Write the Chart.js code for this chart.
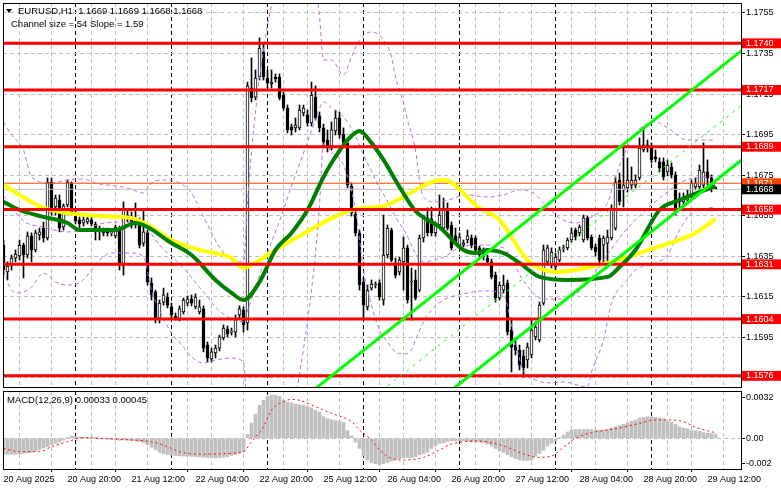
<!DOCTYPE html>
<html><head><meta charset="utf-8">
<script src="https://cdn.jsdelivr.net/npm/chart.js@4.4.1/dist/chart.umd.min.js"></script>
<style>
html,body{margin:0;padding:0;background:#fff;}
#wrap{position:relative;width:781px;height:489px;overflow:hidden;background:#fff;font-family:"Liberation Sans",Arial,sans-serif;}
canvas{position:absolute;left:0;}
#main{top:0;}
#macd{top:389px;}
.lbl{position:absolute;font-size:9.5px;color:#000;white-space:pre;line-height:1;}
.tri{position:absolute;left:6px;top:9px;width:0;height:0;border-left:3px solid transparent;border-right:3px solid transparent;border-top:4px solid #000;}
</style></head><body>
<div id="wrap">
<canvas id="main" width="781" height="389"></canvas>
<canvas id="macd" width="781" height="100"></canvas>
<div class="tri"></div>
<div class="lbl" style="left:18px;top:6px;">EURUSD,H1  1.1669 1.1669 1.1668 1.1668</div>
<div class="lbl" style="left:11px;top:19px;">Channel size = 54 Slope = 1.59</div>
<div class="lbl" style="left:7px;top:395px;">MACD(12,26,9) 0.00033 0.00045</div>
</div>
<script>
// ---------- DATA (EURUSD H1, bar 0 = 20 Aug 2025 04:00) ----------
const open = [1.16405,1.16272,1.16302,1.16341,1.16351,1.16405,1.16356,1.16450,1.16381,1.16455,
1.16489,1.16440,1.16716,1.16593,1.16627,1.16494,1.16603,1.16711,1.16563,1.16529,
1.16514,1.16519,1.16529,1.16509,1.16484,1.16465,1.16479,1.16465,1.16450,1.16489,
1.16302,1.16539,1.16548,1.16529,1.16519,1.16415,1.16465,1.16218,1.16174,1.16045,
1.16124,1.16149,1.16100,1.16055,1.16040,1.16075,1.16119,1.16139,1.16100,1.16075,
1.16090,1.15912,1.15843,1.15873,1.15897,1.15947,1.15991,1.15976,1.15976,1.16060,
1.16085,1.16021,1.17180,1.17135,1.17234,1.17357,1.17229,1.17200,1.17234,1.17234,
1.17145,1.17081,1.16988,1.16983,1.16983,1.17057,1.17047,1.17007,1.17135,1.17042,
1.16983,1.16923,1.16884,1.16968,1.17032,1.16953,1.16909,1.16696,1.16558,1.16465,
1.16223,1.16100,1.16193,1.16208,1.16218,1.16134,1.16356,1.16479,1.16317,1.16272,
1.16322,1.16391,1.16223,1.16233,1.16183,1.16440,1.16539,1.16534,1.16465,1.16504,
1.16489,1.16578,1.16504,1.16450,1.16405,1.16405,1.16430,1.16440,1.16440,1.16391,
1.16381,1.16341,1.16322,1.16257,1.16144,1.16183,1.16218,1.15986,1.15912,1.15887,
1.15858,1.15838,1.15863,1.15952,1.15937,1.16119,1.16322,1.16307,1.16297,1.16331,
1.16386,1.16391,1.16430,1.16479,1.16465,1.16430,1.16539,1.16445,1.16396,1.16440,
1.16405,1.16415,1.16440,1.16489,1.16726,1.16677,1.16687,1.16701,1.16701,1.16736,
1.16874,1.16899,1.16889,1.16840,1.16815,1.16815,1.16766,1.16790,1.16751,1.16637,
1.16618,1.16627,1.16642,1.16692,1.16692,1.16701,1.16766,1.16736,1.16690];
const high = [1.16430,1.16322,1.16356,1.16381,1.16430,1.16415,1.16470,1.16465,1.16479,1.16489,
1.16519,1.16736,1.16736,1.16652,1.16652,1.16608,1.16726,1.16716,1.16578,1.16544,
1.16548,1.16558,1.16544,1.16519,1.16499,1.16489,1.16489,1.16484,1.16504,1.16499,
1.16618,1.16578,1.16568,1.16613,1.16539,1.16578,1.16479,1.16243,1.16183,1.16134,
1.16193,1.16169,1.16119,1.16070,1.16105,1.16144,1.16154,1.16159,1.16164,1.16134,
1.16105,1.15927,1.15897,1.15912,1.15961,1.16011,1.16006,1.15996,1.16060,1.16105,
1.16100,1.17209,1.17328,1.17269,1.17427,1.17402,1.17269,1.17269,1.17249,1.17249,
1.17160,1.17096,1.17002,1.17032,1.17096,1.17096,1.17071,1.17209,1.17190,1.17061,
1.17002,1.16973,1.17012,1.17071,1.17061,1.16983,1.16923,1.16711,1.16578,1.16479,
1.16243,1.16208,1.16233,1.16223,1.16233,1.16553,1.16504,1.16489,1.16341,1.16346,
1.16445,1.16405,1.16292,1.16282,1.16455,1.16553,1.16588,1.16593,1.16519,1.16652,
1.16637,1.16613,1.16519,1.16489,1.16465,1.16430,1.16479,1.16455,1.16450,1.16400,
1.16391,1.16356,1.16336,1.16272,1.16223,1.16257,1.16233,1.16045,1.15937,1.15912,
1.15887,1.15922,1.16035,1.16026,1.16124,1.16405,1.16405,1.16391,1.16366,1.16396,
1.16405,1.16440,1.16489,1.16489,1.16504,1.16553,1.16548,1.16455,1.16410,1.16455,
1.16450,1.16479,1.16603,1.16741,1.16761,1.16884,1.16834,1.16790,1.16751,1.16933,
1.16988,1.16923,1.16909,1.16874,1.16835,1.16835,1.16825,1.16810,1.16766,1.16662,
1.16662,1.16677,1.16726,1.16736,1.16800,1.16909,1.16825,1.16751,1.16692];
const low = [1.16257,1.16233,1.16282,1.16322,1.16331,1.16243,1.16341,1.16322,1.16371,1.16430,
1.16420,1.16430,1.16553,1.16553,1.16470,1.16479,1.16593,1.16553,1.16509,1.16489,
1.16499,1.16509,1.16499,1.16430,1.16430,1.16450,1.16450,1.16450,1.16440,1.16282,
1.16257,1.16519,1.16489,1.16489,1.16391,1.16400,1.16208,1.16134,1.16021,1.16021,
1.16109,1.16095,1.16045,1.16035,1.16031,1.16065,1.16105,1.16105,1.16090,1.16065,
1.15878,1.15828,1.15828,1.15848,1.15883,1.15937,1.15952,1.15961,1.15952,1.16045,
1.15976,1.15986,1.17111,1.17121,1.17219,1.17219,1.17180,1.17180,1.17209,1.17121,
1.17071,1.16958,1.16948,1.16963,1.16973,1.17042,1.16992,1.16992,1.17022,1.16963,
1.16884,1.16864,1.16874,1.16948,1.16933,1.16894,1.16687,1.16548,1.16450,1.16183,
1.16045,1.16085,1.16183,1.16193,1.16134,1.16109,1.16341,1.16322,1.16243,1.16257,
1.16183,1.16119,1.16035,1.16134,1.16174,1.16420,1.16450,1.16450,1.16450,1.16489,
1.16479,1.16479,1.16381,1.16405,1.16391,1.16396,1.16415,1.16391,1.16366,1.16341,
1.16331,1.16307,1.16238,1.16124,1.16134,1.16169,1.15961,1.15779,1.15863,1.15789,
1.15754,1.15799,1.15848,1.15937,1.15927,1.16109,1.16307,1.16292,1.16282,1.16322,
1.16371,1.16381,1.16420,1.16430,1.16450,1.16420,1.16430,1.16381,1.16351,1.16297,
1.16322,1.16297,1.16430,1.16479,1.16603,1.16593,1.16667,1.16677,1.16687,1.16726,
1.16864,1.16864,1.16810,1.16815,1.16766,1.16726,1.16746,1.16736,1.16553,1.16588,
1.16598,1.16608,1.16627,1.16677,1.16677,1.16687,1.16701,1.16667,1.16680];
const close = [1.16282,1.16302,1.16341,1.16361,1.16405,1.16356,1.16450,1.16381,1.16465,1.16470,
1.16440,1.16716,1.16568,1.16637,1.16489,1.16598,1.16716,1.16563,1.16524,1.16509,
1.16529,1.16534,1.16509,1.16470,1.16470,1.16474,1.16465,1.16470,1.16494,1.16317,
1.16588,1.16553,1.16509,1.16504,1.16405,1.16470,1.16223,1.16159,1.16035,1.16119,
1.16159,1.16109,1.16060,1.16045,1.16090,1.16134,1.16139,1.16119,1.16149,1.16100,
1.15897,1.15848,1.15878,1.15897,1.15952,1.15996,1.15966,1.15981,1.16045,1.16090,
1.16011,1.17190,1.17131,1.17229,1.17377,1.17234,1.17205,1.17209,1.17224,1.17131,
1.17081,1.16973,1.16973,1.16997,1.17071,1.17081,1.17007,1.17145,1.17032,1.16983,
1.16914,1.16884,1.16973,1.17032,1.16948,1.16909,1.16701,1.16563,1.16465,1.16208,
1.16109,1.16183,1.16213,1.16213,1.16149,1.16356,1.16489,1.16331,1.16257,1.16331,
1.16391,1.16134,1.16223,1.16144,1.16440,1.16539,1.16465,1.16465,1.16504,1.16553,
1.16578,1.16489,1.16391,1.16415,1.16445,1.16415,1.16450,1.16405,1.16381,1.16356,
1.16346,1.16322,1.16248,1.16144,1.16208,1.16208,1.15976,1.15902,1.15887,1.15813,
1.15799,1.15902,1.15986,1.16001,1.16109,1.16381,1.16391,1.16371,1.16346,1.16381,
1.16391,1.16430,1.16465,1.16445,1.16494,1.16539,1.16440,1.16391,1.16371,1.16331,
1.16440,1.16445,1.16588,1.16716,1.16618,1.16701,1.16726,1.16726,1.16726,1.16884,
1.16899,1.16884,1.16825,1.16830,1.16785,1.16741,1.16800,1.16751,1.16568,1.16618,
1.16642,1.16652,1.16711,1.16711,1.16775,1.16766,1.16736,1.16692,1.16682];

// moving averages and Bollinger bands: [bar index, price]
const maYellow = [[0,1.16701],[10,1.16588],[16,1.16563],[24,1.16548],[32,1.16539],[37,1.16494],[42,1.16430],[49,1.16381],[57,1.16341],[60,1.16292],[64,1.16331],[68,1.16381],[74,1.16450],[87,1.16578],[95,1.16598],[110,1.16726],[119,1.16588],[124,1.16529],[131,1.16331],[138,1.16272],[151,1.16317],[162,1.16386],[173,1.16465],[178,1.16534]];
const maGreen = [[0,1.16618],[4,1.16578],[10,1.16544],[16,1.16514],[19,1.16479],[28,1.16479],[33,1.16514],[36,1.16494],[42,1.16415],[47,1.16356],[53,1.16233],[57,1.16169],[60,1.16134],[64,1.16223],[68,1.16381],[72,1.16465],[76,1.16578],[80,1.16741],[82,1.16810],[86,1.16923],[89,1.16968],[92,1.16909],[95,1.16825],[99,1.16692],[103,1.16573],[109,1.16494],[115,1.16381],[118,1.16366],[121,1.16381],[125,1.16366],[129,1.16317],[134,1.16248],[141,1.16233],[151,1.16248],[154,1.16297],[158,1.16381],[164,1.16578],[169,1.16627],[178,1.16696]];
const bbUpper = [[0,1.17012],[2,1.16948],[5,1.16874],[7,1.16741],[12,1.16711],[16,1.16726],[20,1.16731],[23,1.16711],[31,1.16687],[35,1.16662],[37,1.16711],[40,1.16726],[44,1.16711],[47,1.16662],[50,1.16544],[54,1.16396],[58,1.16322],[60,1.16322],[61,1.16613],[62,1.16864],[63,1.17062],[64,1.17229],[65,1.17367],[66,1.17491],[68,1.17668],[70,1.17801],[72,1.17846],[74,1.17841],[76,1.17801],[77,1.17762],[78,1.17683],[79,1.17530],[80,1.17318],[82,1.17318],[85,1.17244],[87,1.17333],[89,1.17417],[92,1.17456],[95,1.17417],[97,1.17333],[98,1.17234],[100,1.17106],[101,1.17022],[103,1.16874],[104,1.16726],[105,1.16642],[108,1.16618],[111,1.16627],[116,1.16652],[121,1.16642],[125,1.16652],[129,1.16677],[132,1.16667],[136,1.16593],[139,1.16539],[143,1.16514],[147,1.16544],[151,1.16613],[153,1.16741],[156,1.16889],[158,1.16958],[163,1.17012],[166,1.16983],[171,1.16923],[178,1.16923]];
const bbMiddle = [[0,1.16647],[5,1.16524],[10,1.16494],[16,1.16470],[20,1.16475],[24,1.16509],[31,1.16519],[35,1.16504],[39,1.16405],[44,1.16312],[50,1.16174],[54,1.16080],[60,1.16026],[61,1.16080],[63,1.16193],[65,1.16312],[67,1.16420],[69,1.16524],[72,1.16696],[74,1.16805],[76,1.16914],[78,1.17022],[80,1.17111],[82,1.17081],[85,1.17037],[88,1.16943],[90,1.16849],[92,1.16770],[94,1.16687],[96,1.16622],[98,1.16544],[100,1.16484],[105,1.16322],[110,1.16346],[115,1.16400],[120,1.16405],[125,1.16391],[130,1.16228],[135,1.16139],[140,1.16139],[145,1.16198],[150,1.16331],[155,1.16465],[160,1.16568],[165,1.16652],[170,1.16721],[178,1.16746]];
const bbLower = [[0,1.16282],[2,1.16183],[4,1.16169],[7,1.16198],[10,1.16267],[13,1.16223],[16,1.16208],[19,1.16218],[22,1.16282],[24,1.16331],[27,1.16366],[32,1.16366],[35,1.16346],[37,1.16183],[39,1.16085],[42,1.15971],[45,1.15902],[47,1.15853],[50,1.15823],[53,1.15838],[57,1.15848],[60,1.15828],[61,1.15547],[62,1.15404],[64,1.15276],[66,1.15261],[68,1.15281],[70,1.15365],[72,1.15547],[74,1.15769],[76,1.16026],[77,1.16183],[78,1.16361],[79,1.16603],[80,1.16904],[82,1.16864],[85,1.16800],[88,1.16578],[90,1.16282],[92,1.16109],[94,1.15986],[96,1.15927],[98,1.15878],[100,1.15868],[102,1.15888],[103,1.15937],[106,1.16060],[110,1.16134],[115,1.16164],[120,1.16179],[125,1.16164],[127,1.16011],[130,1.15784],[133,1.15740],[136,1.15725],[140,1.15730],[146,1.15705],[147,1.15779],[150,1.15937],[152,1.16119],[156,1.16233],[158,1.16282],[163,1.16317],[166,1.16356],[169,1.16479],[172,1.16563],[178,1.16593]];

// regression channel (two anchor bars)
const channelIdx = [60, 190];
const channelUpper = [1.15416, 1.17450];
const channelMiddle = [1.15146, 1.17180];
const channelLower = [1.14876, 1.16910];

// horizontal levels
const levels = [1.1740, 1.1717, 1.1689, 1.1658, 1.1631, 1.1604, 1.1576];
const askPrice = 1.1671;
const bidPrice = 1.1668;
const priceGrid = [1.1575, 1.1595, 1.1615, 1.1635, 1.1655, 1.1675, 1.1695, 1.1715, 1.1735, 1.1755];

// MACD(12,26,9)
const macdMain = [-0.00125,-0.00126,-0.00126,-0.00125,-0.00123,-0.00120,-0.00115,-0.00110,-0.00103,-0.00090,
-0.00077,-0.00065,-0.00050,-0.00040,-0.00028,-0.00013,0.00005,0.00018,0.00015,0.00010,
0.00008,0.00006,0.00004,0.00002,-0.00001,-0.00003,-0.00006,-0.00008,-0.00010,-0.00015,
-0.00013,-0.00015,-0.00018,-0.00020,-0.00025,-0.00035,-0.00050,-0.00070,-0.00090,-0.00110,
-0.00120,-0.00128,-0.00133,-0.00136,-0.00138,-0.00140,-0.00140,-0.00142,-0.00144,-0.00146,
-0.00148,-0.00152,-0.00154,-0.00155,-0.00153,-0.00150,-0.00145,-0.00135,-0.00125,-0.00115,
-0.00105,0.00030,0.00120,0.00190,0.00260,0.00300,0.00330,0.00340,0.00340,0.00330,
0.00300,0.00285,0.00280,0.00270,0.00265,0.00260,0.00250,0.00240,0.00220,0.00205,
0.00170,0.00155,0.00145,0.00140,0.00135,0.00125,0.00060,0.00020,-0.00030,-0.00080,
-0.00140,-0.00170,-0.00190,-0.00200,-0.00210,-0.00200,-0.00190,-0.00180,-0.00170,-0.00160,
-0.00155,-0.00150,-0.00150,-0.00145,-0.00130,-0.00120,-0.00110,-0.00080,-0.00060,-0.00040,
-0.00035,-0.00025,-0.00020,-0.00020,-0.00020,-0.00020,-0.00025,-0.00030,-0.00030,-0.00030,
-0.00035,-0.00045,-0.00060,-0.00080,-0.00100,-0.00110,-0.00130,-0.00145,-0.00160,-0.00170,
-0.00175,-0.00175,-0.00170,-0.00140,-0.00120,-0.00095,-0.00060,-0.00040,-0.00020,0.00001,
0.00025,0.00050,0.00065,0.00070,0.00070,0.00070,0.00070,0.00068,0.00065,0.00065,
0.00065,0.00070,0.00080,0.00090,0.00100,0.00110,0.00120,0.00135,0.00145,0.00160,
0.00165,0.00170,0.00170,0.00165,0.00160,0.00155,0.00135,0.00125,0.00110,0.00090,
0.00080,0.00075,0.00060,0.00060,0.00055,0.00045,0.00040,0.00038,0.00033];
const macdSignal = [[0,-0.00080],[4,-0.00105],[9,-0.00105],[12,-0.00066],[16,-0.00027],[20,0.00005],[24,0.00000],[32,-0.00013],[37,-0.00027],[41,-0.00066],[44,-0.00105],[49,-0.00126],[57,-0.00118],[60,-0.00105],[62,-0.00027],[65,0.00091],[67,0.00223],[70,0.00288],[72,0.00307],[74,0.00300],[78,0.00249],[82,0.00197],[87,0.00131],[89,0.00065],[92,-0.00013],[94,-0.00092],[97,-0.00158],[100,-0.00171],[105,-0.00150],[109,-0.00092],[112,-0.00045],[115,-0.00027],[118,-0.00021],[122,-0.00035],[126,-0.00071],[130,-0.00124],[134,-0.00150],[137,-0.00140],[140,-0.00071],[143,0.00000],[147,0.00044],[151,0.00065],[155,0.00087],[159,0.00118],[163,0.00144],[167,0.00144],[170,0.00131],[173,0.00087],[177,0.00052],[178,0.00045]];
const macdTickVals = [0.0032, 0, -0.002];
const macdTickText = ['0.0032', '0.00', '-0.002'];

// time axis
const timeTickIdx = [0,16,32,48,64,80,96,112,128,144,160,176];
const timeTickText = ['20 Aug 2025','20 Aug 20:00','21 Aug 12:00','22 Aug 04:00','22 Aug 20:00','25 Aug 12:00','26 Aug 04:00','26 Aug 20:00','27 Aug 12:00','28 Aug 04:00','28 Aug 20:00','29 Aug 12:00'];
const dayStartIdx = [20,44,68,92,116,140,164];

// ---------- CHARTS ----------
Chart.defaults.font.family = '"Liberation Sans", Arial, sans-serif';
Chart.defaults.font.size = 9;
Chart.defaults.color = '#000';
Chart.defaults.animation = false;

const X_MIN = -0.125, X_MAX = 184.375;
const P_MIN = 1.15705, P_MAX = 1.17599;
const M_MIN = -0.002419, M_MAX = 0.003727;
const CLEAR = 'rgba(0,0,0,0)';

const idx = close.map((_, i) => i);
const toPts = arr => arr.map(p => ({x: p[0], y: p[1]}));
const hLine = v => [{x: X_MIN - 2, y: v}, {x: X_MAX + 2, y: v}];

const vGrid = [];
for (let i = 0; i <= 184; i += 8) vGrid.push(i);
dayStartIdx.forEach(d => vGrid.push(d));
vGrid.sort((a, b) => a - b);
const isDay = v => dayStartIdx.includes(v);
const vGridColor = ctx => (ctx.tick && isDay(ctx.tick.value)) ? '#000000' : '#C0C0C0';

const tickStyle = {};
priceGrid.forEach(v => { tickStyle[v.toFixed(5)] = {box: false}; });
levels.forEach(v => { tickStyle[v.toFixed(5)] = {box: true, bg: '#FF0000'}; });
tickStyle[askPrice.toFixed(5)] = {box: true, bg: '#FF4500'};
tickStyle[bidPrice.toFixed(5)] = {box: true, bg: '#000000'};
const styleOf = ctx => (ctx && ctx.tick && tickStyle[Number(ctx.tick.value).toFixed(5)]) || {box: false};
const yTicks = [...priceGrid, ...levels, askPrice, bidPrice];

const frame = {
  id: 'frame',
  afterDraw(chart) {
    const a = chart.chartArea, c = chart.ctx;
    c.save();
    c.strokeStyle = '#000'; c.lineWidth = 1; c.setLineDash([]);
    c.strokeRect(Math.round(a.left) + 0.5, Math.round(a.top) + 0.5, Math.round(a.right - a.left), Math.round(a.bottom - a.top));
    c.restore();
  }
};

const lineDs = (data, color, width, order, extra) => Object.assign({
  type: 'line', data, borderColor: color, borderWidth: width, pointRadius: 0, fill: false,
  order, clip: 0, cubicInterpolationMode: 'monotone'
}, extra || {});

const bandStyle = {borderDash: [4, 3]};
const datasets = [
  { type: 'bar', data: idx.map(i => ({x: i, y: [low[i], high[i]]})), backgroundColor: '#000000',
    borderWidth: 0, grouped: false, barThickness: 1, maxBarThickness: 1, order: 30 },
  { type: 'bar', data: idx.map(i => ({x: i, y: [open[i], close[i]]})),
    backgroundColor: idx.map(i => close[i] >= open[i] ? '#FFFFFF' : '#000000'),
    borderColor: '#000000', borderWidth: 1, borderSkipped: false, grouped: false,
    barThickness: 3, maxBarThickness: 3, minBarLength: 1, order: 29 },
  lineDs(toPts(bbUpper), '#C06CE8', 1, 25, bandStyle),
  lineDs(toPts(bbMiddle), '#C06CE8', 1, 25, bandStyle),
  lineDs(toPts(bbLower), '#C06CE8', 1, 25, bandStyle),
  lineDs(hLine(bidPrice), '#C0C0C0', 1, 24, {cubicInterpolationMode: 'default'}),
  lineDs(hLine(askPrice), '#FF4500', 1, 23, {cubicInterpolationMode: 'default'}),
  lineDs(toPts(maYellow), '#FFFF00', 4, 22),
  lineDs(toPts(maGreen), '#008000', 4, 21),
  ...levels.map(v => lineDs(hLine(v), '#FF0000', 3, 10, {cubicInterpolationMode: 'default'})),
  lineDs(channelIdx.map((x, k) => ({x, y: channelUpper[k]})), '#00FF00', 3, 5, {cubicInterpolationMode: 'default'}),
  lineDs(channelIdx.map((x, k) => ({x, y: channelLower[k]})), '#00FF00', 3, 5, {cubicInterpolationMode: 'default'}),
  lineDs(channelIdx.map((x, k) => ({x, y: channelMiddle[k]})), '#00FF00', 1, 5, {cubicInterpolationMode: 'default', borderDash: [3, 5]})
];

new Chart(document.getElementById('main'), {
  type: 'line',
  data: {datasets},
  options: {
    responsive: false, animation: false, events: [],
    layout: {padding: {left: 3, top: 3, right: 0, bottom: 2}},
    plugins: {legend: {display: false}, tooltip: {enabled: false}},
    scales: {
      x: {
        type: 'linear', min: X_MIN, max: X_MAX, offset: false, bounds: 'data',
        afterBuildTicks: ax => { ax.ticks = vGrid.map(v => ({value: v})); },
        afterFit: ax => { ax.height = 0; ax.paddingLeft = 0; ax.paddingRight = 0; },
        ticks: {display: false},
        grid: {color: vGridColor, lineWidth: 1, drawTicks: false},
        border: {display: false, dash: [4, 3]}
      },
      y: {
        type: 'linear', position: 'right', min: P_MIN, max: P_MAX, bounds: 'data',
        afterBuildTicks: ax => { ax.ticks = yTicks.map(v => ({value: v})); },
        afterFit: ax => { ax.width = 40; ax.paddingTop = 0; ax.paddingBottom = 0; },
        ticks: {
          autoSkip: false, padding: 1, font: {size: 9, lineHeight: 1.1},
          callback: v => Number(v).toFixed(4),
          color: ctx => styleOf(ctx).box ? '#FFFFFF' : '#000000',
          showLabelBackdrop: ctx => styleOf(ctx).box,
          backdropColor: ctx => styleOf(ctx).bg || CLEAR,
          backdropPadding: {left: 4, right: 8, top: 0, bottom: 0}
        },
        grid: {
          color: ctx => styleOf(ctx).box ? CLEAR : '#C0C0C0',
          tickColor: ctx => styleOf(ctx).box ? CLEAR : '#000000',
          tickLength: 4, lineWidth: 1
        },
        border: {display: false, dash: [4, 3]}
      }
    }
  },
  plugins: [frame]
});

new Chart(document.getElementById('macd'), {
  type: 'line',
  data: {datasets: [
    { type: 'bar', data: idx.map(i => ({x: i, y: macdMain[i]})), backgroundColor: '#C0C0C0',
      borderWidth: 0, grouped: false, barThickness: 3, maxBarThickness: 3, order: 10 },
    lineDs(toPts(macdSignal), '#FF0000', 1, 1, {borderDash: [2, 3]})
  ]},
  options: {
    responsive: false, animation: false, events: [],
    layout: {padding: {left: 3, top: 2, right: 0, bottom: 0}},
    plugins: {legend: {display: false}, tooltip: {enabled: false}},
    scales: {
      x: {
        type: 'linear', min: X_MIN, max: X_MAX, offset: false, bounds: 'data',
        afterBuildTicks: ax => { ax.ticks = vGrid.map(v => ({value: v})); },
        afterFit: ax => { ax.height = 20; ax.paddingLeft = 0; ax.paddingRight = 0; },
        ticks: {
          autoSkip: false, maxRotation: 0, minRotation: 0, align: 'start', padding: 2, font: {size: 9},
          callback: v => { const k = timeTickIdx.indexOf(v); return k >= 0 ? timeTickText[k] : ''; }
        },
        grid: {
          color: vGridColor, lineWidth: 1, drawTicks: true, tickLength: 3,
          tickColor: ctx => (ctx.tick && timeTickIdx.includes(ctx.tick.value)) ? '#000000' : CLEAR
        },
        border: {display: false, dash: [4, 3]}
      },
      y: {
        type: 'linear', position: 'right', min: M_MIN, max: M_MAX, bounds: 'data',
        afterBuildTicks: ax => { ax.ticks = macdTickVals.map(v => ({value: v})); },
        afterFit: ax => { ax.width = 40; ax.paddingTop = 0; ax.paddingBottom = 0; },
        ticks: {
          autoSkip: false, padding: 1, font: {size: 9},
          callback: v => { const k = macdTickVals.indexOf(v); return k >= 0 ? macdTickText[k] : ''; }
        },
        grid: {
          color: ctx => (ctx.tick && ctx.tick.value === 0) ? '#C0C0C0' : CLEAR,
          tickColor: '#000000', tickLength: 4, lineWidth: 1
        },
        border: {display: false, dash: [4, 3]}
      }
    }
  },
  plugins: [frame]
});
</script>
</body></html>
